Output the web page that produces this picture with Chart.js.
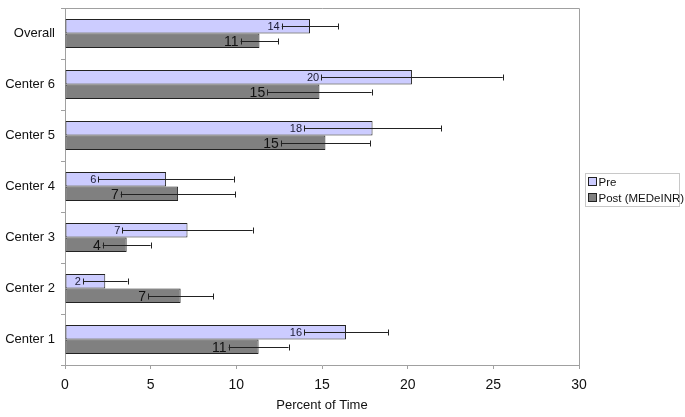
<!DOCTYPE html>
<html>
<head>
<meta charset="utf-8">
<script src="https://cdn.jsdelivr.net/npm/chart.js@4.4.1/dist/chart.umd.min.js"></script>
<style>
  html, body { margin: 0; padding: 0; background: #fff; }
  #wrap { width: 685px; height: 417px; position: relative; }
</style>
</head>
<body>
<div id="wrap"><canvas id="timeChart"></canvas></div>
<script>
// percent of time in range, pre vs post, by center

const centers = ["Overall", "Center 6", "Center 5", "Center 4", "Center 3", "Center 2", "Center 1"];
const preValues = [14.3, 20.25, 17.95, 5.9, 7.15, 2.35, 16.4];
const preErrors = [1.65, 5.3, 4.0, 3.95, 3.8, 1.3, 2.45];
const postValues = [11.35, 14.85, 15.2, 6.6, 3.6, 6.75, 11.3];
const postErrors = [1.1, 3.05, 2.6, 3.35, 1.4, 1.9, 1.75];
const xTicks = [0, 5, 10, 15, 20, 25, 30];

const FONT = "'Liberation Sans', Arial, sans-serif";

// --------------------
// error bars + value labels
// --------------------
const errorBarPlugin = {
    id: "errorBars",
    afterDatasetsDraw(chart) {
        const ctx = chart.ctx;
        const xs = chart.scales.x;
        const errs = [preErrors, postErrors];
        const labelFonts = ["11px " + FONT, "14px " + FONT];
        ctx.save();
        chart.data.datasets.forEach((ds, di) => {
            const meta = chart.getDatasetMeta(di);
            meta.data.forEach((bar, i) => {
                const v = ds.data[i];
                const e = errs[di][i];
                const lo = xs.getPixelForValue(v - e);
                const hi = xs.getPixelForValue(v + e);
                const y = Math.round(bar.y) + 0.5;
                ctx.strokeStyle = "#222";
                ctx.lineWidth = 1;
                ctx.beginPath();
                ctx.moveTo(lo, y);
                ctx.lineTo(hi, y);
                ctx.moveTo(Math.round(lo) + 0.5, y - 3);
                ctx.lineTo(Math.round(lo) + 0.5, y + 3);
                ctx.moveTo(Math.round(hi) + 0.5, y - 3);
                ctx.lineTo(Math.round(hi) + 0.5, y + 3);
                ctx.stroke();

                ctx.fillStyle = di === 0 ? "#1a1a33" : "#111";
                ctx.font = labelFonts[di];
                ctx.textAlign = "right";
                ctx.textBaseline = "middle";
                ctx.fillText(String(Math.round(v)), lo - 2, bar.y + 1);
            });
        });
        ctx.restore();
    }
};

// --------------------
// plot frame + legend box
// --------------------
const framePlugin = {
    id: "frame",
    afterDraw(chart) {
        const ctx = chart.ctx;
        const a = chart.chartArea;
        ctx.save();
        ctx.strokeStyle = "#a0a0a0";
        ctx.lineWidth = 1;
        ctx.beginPath();
        ctx.moveTo(a.left, Math.round(a.top) + 0.5);
        ctx.lineTo(Math.round(a.right) + 0.5, Math.round(a.top) + 0.5);
        ctx.lineTo(Math.round(a.right) + 0.5, a.bottom);
        ctx.stroke();

        // legend
        const lx = 585.5, ly = 173.5, lw = 94, lh = 33;
        ctx.fillStyle = "#fff";
        ctx.fillRect(lx, ly, lw, lh);
        ctx.strokeStyle = "#c8c8c8";
        ctx.strokeRect(lx, ly, lw, lh);
        ctx.font = "11.5px " + FONT;
        ctx.textAlign = "left";
        ctx.textBaseline = "middle";
        chart.data.datasets.forEach((ds, i) => {
            const yy = ly + 8 + i * 16;
            ctx.fillStyle = ds.backgroundColor;
            ctx.fillRect(lx + 3, yy - 4, 8, 8);
            ctx.strokeStyle = "#222";
            ctx.strokeRect(lx + 3, yy - 4, 8, 8);
            ctx.fillStyle = "#111";
            ctx.fillText(ds.label, lx + 13, yy + 1);
        });
        ctx.restore();
    }
};

new Chart(document.getElementById("timeChart"), {
    type: "bar",
    data: {
        labels: centers,
        datasets: [
            {
                label: "Pre",
                data: preValues,
                backgroundColor: "#ccccff",
                borderColor: "#222",
                borderWidth: 1,
                borderSkipped: false
            },
            {
                label: "Post (MEDeINR)",
                data: postValues,
                backgroundColor: "#808080",
                borderColor: "#222",
                borderWidth: 1,
                borderSkipped: false
            }
        ]
    },
    plugins: [errorBarPlugin, framePlugin],
    options: {
        indexAxis: "y",
        responsive: true,
        maintainAspectRatio: false,
        animation: false,
        categoryPercentage: 0.57,
        barPercentage: 1.0,
        layout: { padding: { top: 8, right: 106, left: 0, bottom: 0 } },
        plugins: {
            legend: { display: false },
            tooltip: { enabled: false }
        },
        scales: {
            x: {
                min: 0,
                max: 30,
                afterBuildTicks(scale) {
                    scale.ticks = xTicks.map(v => ({ value: v }));
                },
                afterFit(scale) { scale.height = 52; },
                grid: {
                    drawOnChartArea: false,
                    tickLength: 4,
                    color: "#a0a0a0"
                },
                border: { color: "#a0a0a0" },
                ticks: {
                    color: "#111",
                    padding: 8,
                    font: { family: FONT, size: 14 }
                },
                title: {
                    display: true,
                    text: "Percent of Time",
                    color: "#111",
                    padding: { top: 3, bottom: 4 },
                    font: { family: FONT, size: 13 }
                }
            },
            y: {
                afterFit(scale) { scale.width = 65; },
                grid: {
                    offset: true,
                    drawOnChartArea: false,
                    tickLength: 4,
                    color: "#a0a0a0"
                },
                border: { color: "#a0a0a0" },
                ticks: {
                    color: "#111",
                    padding: 6,
                    font: { family: FONT, size: 13, lineHeight: 0.1 }
                }
            }
        }
    }
});
</script>
</body>
</html>
